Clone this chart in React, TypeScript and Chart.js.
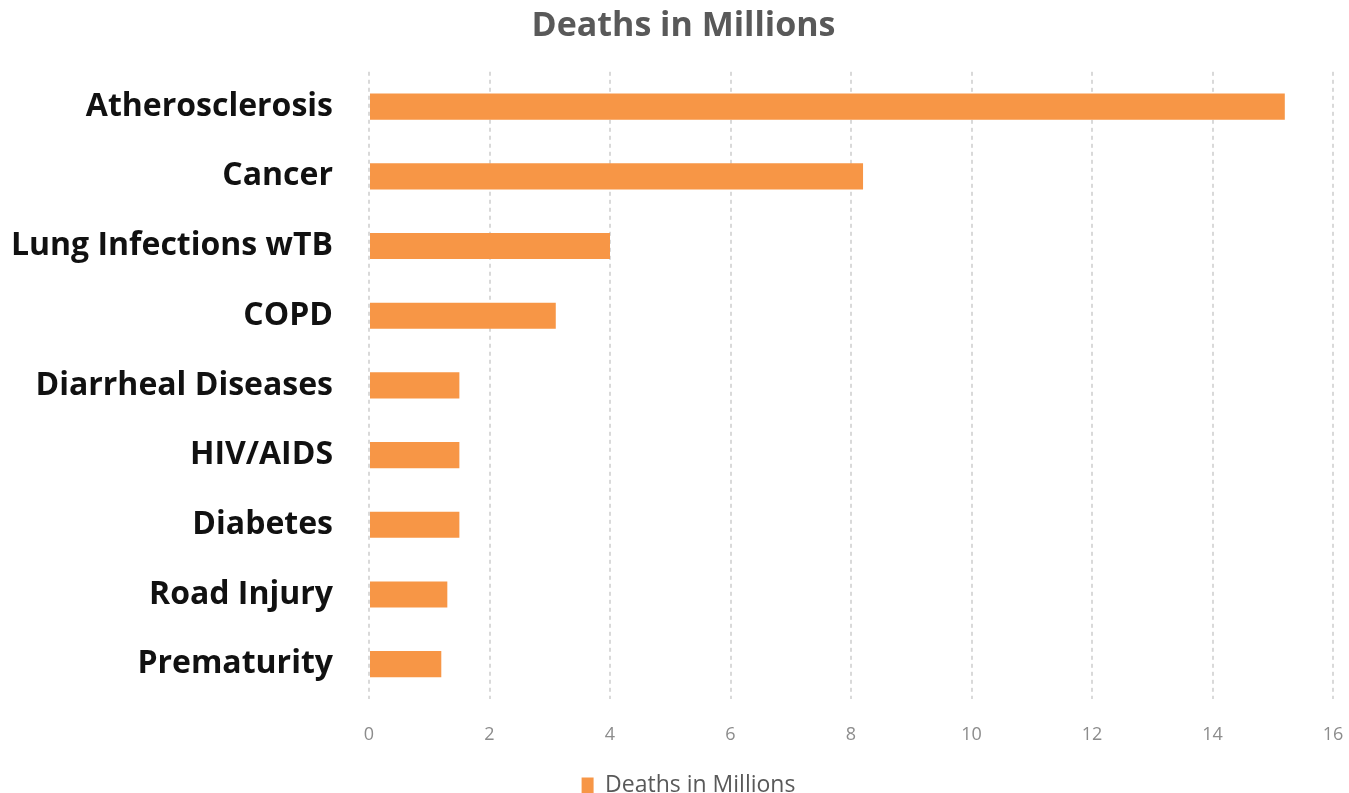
import React, { useEffect, useRef } from "react";
import { Chart, registerables } from "chart.js";

Chart.register(...registerables);

const categories = [
  "Atherosclerosis",
  "Cancer",
  "Lung Infections wTB",
  "COPD",
  "Diarrheal Diseases",
  "HIV/AIDS",
  "Diabetes",
  "Road Injury",
  "Prematurity",
];
const deathsInMillions = [15.2, 8.2, 4.0, 3.1, 1.5, 1.5, 1.5, 1.3, 1.2];
const xTicks = [0, 2, 4, 6, 8, 10, 12, 14, 16];
const seriesName = "Deaths in Millions";
const chartTitle = "Deaths in Millions";

// nudges the title and legend boxes to sit where the reference centres them
const boxShift = {
  id: "boxShift",
  afterLayout(chart: any) {
    const t = chart.titleBlock;
    if (t) {
      t.left += 17;
      t.right += 17;
    }
    const l = chart.legend;
    if (l) {
      l.left += 22;
      l.right += 22;
      if (l.legendHitBoxes) l.adjustHitBoxes && l.adjustHitBoxes();
    }
  },
};

export default function App() {
  const ref = useRef<HTMLCanvasElement | null>(null);
  useEffect(() => {
    if (!ref.current) return;
    const chart = new Chart(ref.current, {
      type: "bar",
      data: {
        labels: categories,
        datasets: [
          {
            label: seriesName,
            data: deathsInMillions,
            backgroundColor: "#F79646",
            borderWidth: 0,
            barPercentage: 0.75,
            categoryPercentage: 0.5,
          },
        ],
      },
      plugins: [boxShift],
      options: {
        indexAxis: "y",
        animation: false,
        responsive: false,
        maintainAspectRatio: false,
        layout: { padding: { left: 0, right: 16, top: 0, bottom: 0 } },
        plugins: {
          title: {
            display: true,
            text: chartTitle,
            color: "#595959",
            font: { family: "Open Sans", size: 34, weight: "bold" },
            padding: { top: 6, bottom: 25 },
          },
          legend: {
            display: true,
            position: "bottom",
            labels: {
              color: "#595959",
              font: { family: "Open Sans", size: 23, lineHeight: 0.6 },
              boxWidth: 12,
              boxHeight: 16,
              padding: 2,
            },
          },
          tooltip: { enabled: false },
        },
        scales: {
          x: {
            min: 0,
            max: 16,
            afterBuildTicks: (axis: any) => {
              axis.ticks = xTicks.map((v) => ({ value: v }));
            },
            ticks: {
              color: "#8c8c8c",
              font: { family: "Open Sans", size: 18 },
              padding: 0,
            },
            grid: {
              color: "#d9d9d9",
              lineWidth: 2,
              drawTicks: true,
              tickLength: 25,
              tickColor: "rgba(0,0,0,0)",
            },
            border: { display: false, dash: [4, 4] },
            afterFit: (axis: any) => {
              axis.height = 73;
            },
          },
          y: {
            ticks: {
              color: "#111111",
              font: { family: "Open Sans", size: 32, weight: "bold" },
              padding: 36,
            },
            grid: { display: false, drawTicks: false },
            border: { display: false },
            afterFit: (axis: any) => {
              axis.width = 369;
            },
          },
        },
      },
    });
    (chart.options.scales as any).x.grid.borderDash = [4, 4];
    chart.update();
    return () => chart.destroy();
  }, []);
  return (
    <div
      style={{
        position: "fixed",
        left: 0,
        top: 0,
        width: 1349,
        height: 793,
        overflow: "hidden",
        background: "#fff",
      }}
    >
      <canvas ref={ref} width={1349} height={807} />
    </div>
  );
}
